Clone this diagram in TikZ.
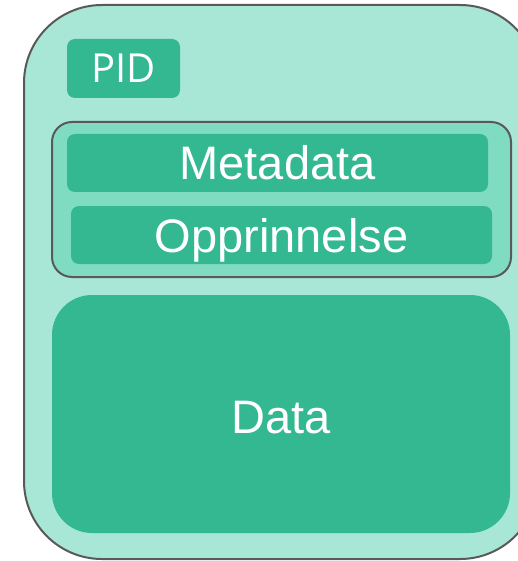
\documentclass[tikz,border=0pt]{standalone}
\usepackage{fontspec}
\setmainfont{Liberation Sans}
\newfontfamily\pidfont{Open Sans}
\definecolor{objlight}{HTML}{A8E6D5}
\definecolor{grouplight}{HTML}{80DCC1}
\definecolor{bardark}{HTML}{33B891}
\definecolor{edgegray}{HTML}{595959}
\begin{document}
\begin{tikzpicture}[x=1pt,y=-1pt,
  box/.style={rectangle,inner sep=0pt,text=white,text height=34pt,text depth=0pt,
    font=\fontsize{47}{50}\selectfont},
  bar/.style={box,fill=bardark,rounded corners=8pt,minimum width=421pt,minimum height=58pt}]
\useasboundingbox (0,0) rectangle (518,561);
\clip (0,0) rectangle (518,561);
% the object
\node[rectangle,draw=edgegray,line width=2pt,fill=objlight,rounded corners=78pt,
  minimum width=514pt,minimum height=554pt] (obj) at (281,282) {};
\node[box,fill=bardark,rounded corners=8pt,minimum width=113pt,minimum height=59pt,
  text height=29pt,font=\pidfont\fontsize{40}{44}\selectfont] (pid) at (123.5,68.5) {PID};
% metadata group
\node[rectangle,draw=edgegray,line width=2pt,fill=grouplight,rounded corners=20pt,
  minimum width=459pt,minimum height=155pt] (group) at (281.5,199.5) {};
\node[bar] (meta) at (277.5,163) {Metadata};
\node[bar] (prov) at (281.5,235) {Opprinnelse};
% data
\node[box,fill=bardark,rounded corners=40pt,minimum width=458pt,minimum height=238pt,
  text height=38pt] (data) at (281,414) {Data};
\end{tikzpicture}
\end{document}
